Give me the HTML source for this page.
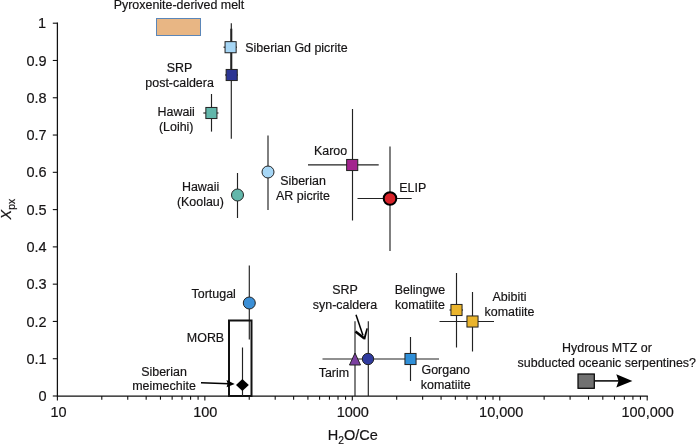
<!DOCTYPE html><html><head><meta charset="utf-8"><title>chart</title><style>html,body{margin:0;padding:0;background:#fff}svg{display:block;will-change:transform}text{font-family:"Liberation Sans",Arial,Helvetica,sans-serif;fill:#151314;stroke:#151314;stroke-width:0.18px}</style></head><body>
<svg width="696" height="445" viewBox="0 0 696 445">
<rect width="696" height="445" fill="#fff"/>
<g stroke="#111" stroke-width="1.25" fill="none">
<path d="M57.4,22.60V396.0H647.80"/>
</g>
<g stroke="#111" stroke-width="1.1" fill="none">
<path d="M52.80,396.00H57.4"/>
<path d="M52.80,358.72H57.4"/>
<path d="M52.80,321.44H57.4"/>
<path d="M52.80,284.16H57.4"/>
<path d="M52.80,246.88H57.4"/>
<path d="M52.80,209.60H57.4"/>
<path d="M52.80,172.32H57.4"/>
<path d="M52.80,135.04H57.4"/>
<path d="M52.80,97.76H57.4"/>
<path d="M52.80,60.48H57.4"/>
<path d="M52.80,23.20H57.4"/>
<path d="M57.40,396.0v4.4"/>
<path d="M101.79,396.0v3.7"/>
<path d="M127.75,396.0v3.7"/>
<path d="M146.17,396.0v3.7"/>
<path d="M160.46,396.0v3.7"/>
<path d="M172.14,396.0v3.7"/>
<path d="M182.01,396.0v3.7"/>
<path d="M190.56,396.0v3.7"/>
<path d="M198.10,396.0v3.7"/>
<path d="M204.85,396.0v4.4"/>
<path d="M249.24,396.0v3.7"/>
<path d="M275.20,396.0v3.7"/>
<path d="M293.62,396.0v3.7"/>
<path d="M307.91,396.0v3.7"/>
<path d="M319.59,396.0v3.7"/>
<path d="M329.46,396.0v3.7"/>
<path d="M338.01,396.0v3.7"/>
<path d="M345.55,396.0v3.7"/>
<path d="M352.30,396.0v4.4"/>
<path d="M396.69,396.0v3.7"/>
<path d="M422.65,396.0v3.7"/>
<path d="M441.07,396.0v3.7"/>
<path d="M455.36,396.0v3.7"/>
<path d="M467.04,396.0v3.7"/>
<path d="M476.91,396.0v3.7"/>
<path d="M485.46,396.0v3.7"/>
<path d="M493.00,396.0v3.7"/>
<path d="M499.75,396.0v4.4"/>
<path d="M544.14,396.0v3.7"/>
<path d="M570.10,396.0v3.7"/>
<path d="M588.52,396.0v3.7"/>
<path d="M602.81,396.0v3.7"/>
<path d="M614.49,396.0v3.7"/>
<path d="M624.36,396.0v3.7"/>
<path d="M632.91,396.0v3.7"/>
<path d="M640.45,396.0v3.7"/>
<path d="M647.20,396.0v4.4"/>
</g>
<g font-size="14.5" text-anchor="end">
<text x="46.7" y="401.10">0</text>
<text x="46.7" y="363.82">0.1</text>
<text x="46.7" y="326.54">0.2</text>
<text x="46.7" y="289.26">0.3</text>
<text x="46.7" y="251.98">0.4</text>
<text x="46.7" y="214.70">0.5</text>
<text x="46.7" y="177.42">0.6</text>
<text x="46.7" y="140.14">0.7</text>
<text x="46.7" y="102.86">0.8</text>
<text x="46.7" y="65.58">0.9</text>
<text x="46.1" y="28.30">1</text>
</g>
<g font-size="14.5" text-anchor="middle">
<text x="58.60" y="417.2">10</text>
<text x="205.35" y="417.2">100</text>
<text x="352.80" y="417.2">1000</text>
<text x="501.25" y="417.2">10,000</text>
<text x="647.70" y="417.2">100,000</text>
<text x="352.7" y="439.8">H<tspan font-size="10.3" dy="3.8">2</tspan><tspan dy="-3.8">O/Ce</tspan></text>
</g>
<text font-size="14.5" text-anchor="middle" transform="translate(10.5,209.2) rotate(-90)"><tspan font-style="italic">X</tspan><tspan font-size="10.4" dy="4.5">px</tspan></text>
<rect x="156.5" y="18.5" width="44" height="17" fill="#e8b684" stroke="#5b86b8" stroke-width="1"/>
<path d="M231.3,23.3V138.7" stroke="#222" stroke-width="1.15" fill="none"/>
<path d="M231.3,28.7V69" stroke="#222" stroke-width="2" fill="none"/>
<path d="M223.5,47.2H237" stroke="#222" stroke-width="1.15" fill="none"/>
<path d="M225,75H238" stroke="#222" stroke-width="1.15" fill="none"/>
<rect x="225.04999999999998" y="41.650000000000006" width="11.1" height="11.1" fill="#a6d6f5" stroke="#222" stroke-width="1"/>
<rect x="226.14999999999998" y="69.45" width="11.1" height="11.1" fill="#2c3593" stroke="#222" stroke-width="1"/>
<path d="M211.5,94V131.6" stroke="#222" stroke-width="1.15" fill="none"/>
<path d="M203.3,113H218.5" stroke="#222" stroke-width="1.15" fill="none"/>
<rect x="205.85" y="107.45" width="11.1" height="11.1" fill="#62b7ab" stroke="#222" stroke-width="1"/>
<path d="M237.5,173V218" stroke="#222" stroke-width="1.15" fill="none"/>
<circle cx="237.5" cy="195" r="6" fill="#62b7ab" stroke="#222" stroke-width="1"/>
<path d="M268,135.5V210" stroke="#222" stroke-width="1.15" fill="none"/>
<circle cx="268" cy="172" r="6" fill="#a6d6f5" stroke="#222" stroke-width="1"/>
<path d="M352.5,109V220.5" stroke="#222" stroke-width="1.15" fill="none"/>
<path d="M308,164.8H378.7" stroke="#222" stroke-width="1.15" fill="none"/>
<rect x="346.65" y="159.45" width="11.1" height="11.1" fill="#a3238e" stroke="#222" stroke-width="1"/>
<path d="M390,146.5V251" stroke="#222" stroke-width="1.15" fill="none"/>
<path d="M357.5,198.5H411.7" stroke="#222" stroke-width="1.15" fill="none"/>
<circle cx="390" cy="198.5" r="6.3" fill="#d8232a" stroke="#000" stroke-width="2"/>
<path d="M249.3,265.5V339.5" stroke="#222" stroke-width="1.15" fill="none"/>
<circle cx="249.3" cy="303" r="6" fill="#3b8fd6" stroke="#222" stroke-width="1"/>
<rect x="229" y="320.5" width="22.5" height="75.5" fill="none" stroke="#111" stroke-width="2"/>
<path d="M242.5,347.5V396" stroke="#222" stroke-width="1.15" fill="none"/>
<path d="M242.4,378.9L248.8,384.9L242.4,390.9L236,384.9Z" fill="#000"/>
<path d="M201,382.7L229,383.7" stroke="#000" stroke-width="1.6" fill="none"/>
<path d="M234.7,383.9L226.5,379.9L227.6,383.6L226.6,387.2Z" fill="#000"/>
<path d="M355,321.2V396" stroke="#222" stroke-width="1.15" fill="none"/>
<path d="M368.3,321.2V396" stroke="#222" stroke-width="1.15" fill="none"/>
<path d="M322.5,359H439" stroke="#222" stroke-width="1.15" fill="none"/>
<path d="M410.5,337V381" stroke="#222" stroke-width="1.15" fill="none"/>
<path d="M355,353L360.5,365H349.5Z" fill="#7b3fa0" stroke="#222" stroke-width="1"/>
<circle cx="368" cy="359" r="5.7" fill="#2f3a9e" stroke="#222" stroke-width="1"/>
<rect x="404.95" y="353.45" width="11.1" height="11.1" fill="#2f8fd8" stroke="#222" stroke-width="1"/>
<path d="M356,314.8L363,335.6" stroke="#000" stroke-width="1.5" fill="none"/>
<path d="M355.5,331.5L364.1,338.2" stroke="#000" stroke-width="2.5" fill="none"/>
<path d="M363.2,339.2L365.3,339.6L367.9,328.5L366.4,328.2Z" fill="#000"/>
<path d="M456.5,273V347.5" stroke="#222" stroke-width="1.15" fill="none"/>
<path d="M472.5,292V351.5" stroke="#222" stroke-width="1.15" fill="none"/>
<path d="M439.5,321.5H494" stroke="#222" stroke-width="1.15" fill="none"/>
<path d="M449.5,310H463" stroke="#222" stroke-width="1.15" fill="none"/>
<rect x="450.95" y="304.45" width="11.1" height="11.1" fill="#eab42c" stroke="#222" stroke-width="1"/>
<rect x="466.95" y="315.95" width="11.1" height="11.1" fill="#eab42c" stroke="#222" stroke-width="1"/>
<rect x="578" y="374" width="16.3" height="14.3" fill="#717171" stroke="#000" stroke-width="1.2"/>
<path d="M595,380.9H620" stroke="#000" stroke-width="1.5" fill="none"/>
<path d="M632.4,380.9L616.3,374.3L618.6,380.9L616.3,387.6Z" fill="#000"/>
<g font-size="12.45">
<text x="179" y="9.3" text-anchor="middle">Pyroxenite-derived melt</text>
<text x="245.3" y="51.6" text-anchor="start">Siberian Gd picrite</text>
<text x="179.6" y="71.8" text-anchor="middle">SRP</text>
<text x="179.6" y="86.5" text-anchor="middle">post-caldera</text>
<text x="176.2" y="115.5" text-anchor="middle">Hawaii</text>
<text x="176.2" y="130.5" text-anchor="middle">(Loihi)</text>
<text x="200.6" y="191" text-anchor="middle">Hawaii</text>
<text x="200.4" y="205.8" text-anchor="middle">(Koolau)</text>
<text x="303" y="185" text-anchor="middle">Siberian</text>
<text x="303" y="200" text-anchor="middle">AR picrite</text>
<text x="330.6" y="154.8" text-anchor="middle">Karoo</text>
<text x="412.8" y="191.8" text-anchor="middle">ELIP</text>
<text x="213.7" y="298" text-anchor="middle">Tortugal</text>
<text x="205.5" y="342" text-anchor="middle">MORB</text>
<text x="164" y="376" text-anchor="middle">Siberian</text>
<text x="164" y="390.3" text-anchor="middle">meimechite</text>
<text x="345" y="293.5" text-anchor="middle">SRP</text>
<text x="345" y="308.6" text-anchor="middle">syn-caldera</text>
<text x="333.9" y="377.4" text-anchor="middle">Tarim</text>
<text x="420" y="293.6" text-anchor="middle">Belingwe</text>
<text x="420" y="308.7" text-anchor="middle">komatiite</text>
<text x="509.5" y="301" text-anchor="middle">Abibiti</text>
<text x="509.5" y="316" text-anchor="middle">komatiite</text>
<text x="445.7" y="373.5" text-anchor="middle">Gorgano</text>
<text x="445.7" y="388.6" text-anchor="middle">komatiite</text>
<text x="607" y="351.8" text-anchor="middle">Hydrous MTZ or</text>
<text x="606.8" y="366.5" text-anchor="middle">subducted oceanic serpentines?</text>
</g>
</svg></body></html>
